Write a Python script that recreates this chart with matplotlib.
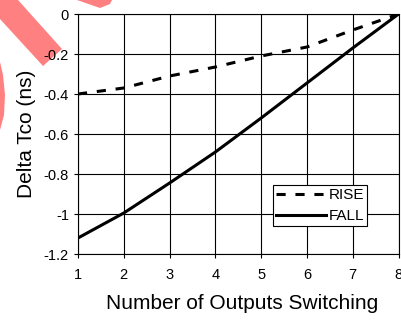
import matplotlib
matplotlib.use('Agg')
import matplotlib.pyplot as plt
from matplotlib.patches import Polygon

plt.rcParams['font.family'] = ['Liberation Sans', 'DejaVu Sans']
plt.rcParams['axes.unicode_minus'] = False

# data
outputs = [1, 2, 3, 4, 5, 6, 7, 8]
rise = [-0.40, -0.37, -0.31, -0.265, -0.21, -0.165, -0.08, 0.0]
fall = [-1.12, -0.995, -0.845, -0.69, -0.52, -0.345, -0.17, 0.0]
yticks = [0, -0.2, -0.4, -0.6, -0.8, -1.0, -1.2]
ytick_labels = ['0', '-0.2', '-0.4', '-0.6', '-0.8', '-1', '-1.2']

W, H = 401, 320
fig = plt.figure(figsize=(W / 100, H / 100), dpi=100)
ax = fig.add_axes([78 / W, 1 - 254 / H, 320.6 / W, 240 / H])

ax.plot(outputs, rise, color='black', lw=2.2, ls=(0, (3, 3.2)), label='RISE')
ax.plot(outputs, fall, color='black', lw=2.2, label='FALL')

ax.set_xlim(1, 8)
ax.set_ylim(-1.2, 0)
ax.set_xticks(outputs)
ax.set_yticks(yticks)
ax.set_yticklabels(ytick_labels)
ax.grid(True, color='black', lw=0.8)
ax.set_axisbelow(True)
for s in ax.spines.values():
    s.set_linewidth(0.8)
ax.tick_params(axis='x', direction='out', length=3, width=0.8, pad=7, labelsize=10.5)
ax.tick_params(axis='y', direction='out', length=3, width=0.8, pad=3.5, labelsize=10.5)

ax.set_xlabel('Number of Outputs Switching', fontsize=15)
ax.xaxis.set_label_coords((242.5 - 78) / 320.6, -0.167)
ax.set_ylabel('Delta Tco (ns)', fontsize=15)
ax.yaxis.set_label_coords((36 - 78) / 320.6, 0.5)

leg = ax.legend(loc='lower right', bbox_to_anchor=((367 - 78) / 320.6, (254 - 226) / 240),
                fontsize=11, frameon=True, fancybox=False, framealpha=1,
                edgecolor='black', borderpad=0.2, handlelength=3.3,
                handletextpad=0.15, labelspacing=0.45, borderaxespad=0)
leg.get_frame().set_linewidth(0.8)

# red stamp fragments in the top-left corner of the reference
stamp = [
    [(0, 0), (18, 0), (62, 49), (43, 66), (0, 19)],
    [(77, 0), (112, 0), (110, 4), (100, 8)],
    [(0, 62), (3, 75), (5, 95), (4, 115), (0, 130)],
]
for pts in stamp:
    fig.patches.append(Polygon([(x / W, 1 - y / H) for x, y in pts], closed=True,
                               transform=fig.transFigure, facecolor='#ff8080',
                               edgecolor='none', zorder=-1))

fig.savefig('out.png', dpi=100)
